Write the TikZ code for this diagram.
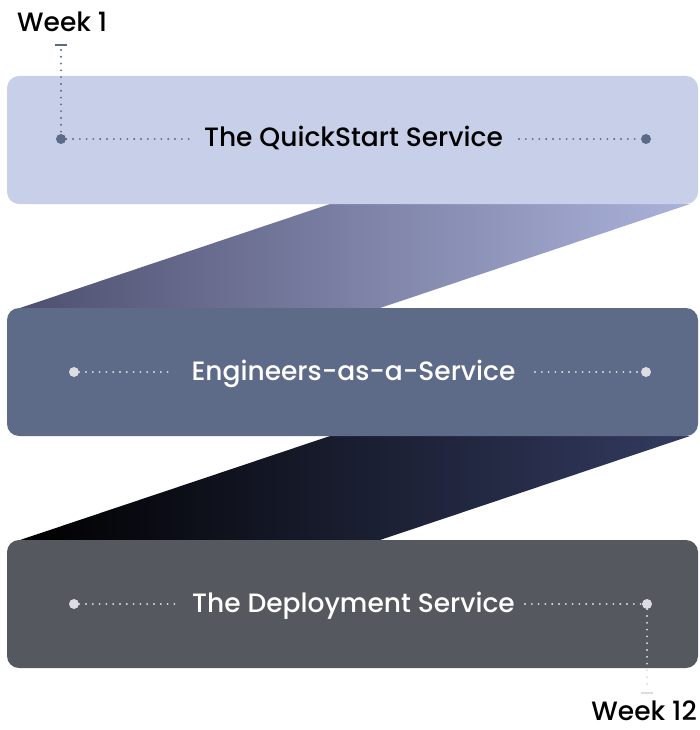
\documentclass[tikz,border=0pt]{standalone}
\usepackage{fontspec}
\setmainfont{Poppins Medium}
\usetikzlibrary{calc}
\begin{document}
\begin{tikzpicture}[x=1pt,y=-1pt,
  box/.style={draw=none,rounded corners=12pt,minimum width=691pt,minimum height=128pt,inner sep=0pt},
  lbl/.style={font=\fontsize{26.5}{30}\selectfont,inner sep=0pt,anchor=base,text depth=0pt},
  dotA/.style={circle,fill=#1,minimum size=10pt,inner sep=0pt},
  dline/.style={draw=#1,line width=2.1pt,line cap=round,dash pattern=on 0pt off 6.8pt}]
\definecolor{boxA}{HTML}{C8D0E9}
\definecolor{boxB}{HTML}{5D6B88}
\definecolor{boxC}{HTML}{55595F}
\definecolor{dotdark}{HTML}{5A6A88}
\definecolor{dotlight}{HTML}{DCDDE2}
\definecolor{gA}{HTML}{4E5070}
\definecolor{gB}{HTML}{ABB2DA}
\definecolor{gC}{HTML}{333B60}
\useasboundingbox (0,0) rectangle (699,730);
% slanted bands
\shade[left color=gA,right color=gB] (330,204) -- (690,204) -- (380,308) -- (20,308) -- cycle;
\shade[left color=black,right color=gC] (330,436) -- (690,436) -- (380,540) -- (20,540) -- cycle;
% boxes
\node[box,fill=boxA] (b1) at (352.5,140) {};
\node[box,fill=boxB] (b2) at (352.5,372) {};
\node[box,fill=boxC] (b3) at (352.5,604) {};
% labels
\node[lbl,text=black] (t1) at (353.5,147) {The QuickStart Service};
\node[lbl,text=white] (t2) at (353.5,380) {Engineers-as-a-Service};
\node[lbl,text=white] (t3) at (353.5,612) {The Deployment Service};
\node[lbl,anchor=base west,text=black] (w1) at (17,32) {Week 1};
\node[lbl,anchor=base east,text=black] (w12) at (697,720) {Week 12};
% dots
\node[dotA=dotdark] (d1l) at (61,139) {};
\node[dotA=dotdark] (d1r) at (646,139) {};
\node[dotA=dotlight] (d2l) at (74,372) {};
\node[dotA=dotlight] (d2r) at (646,372) {};
\node[dotA=dotlight] (d3l) at (74,604) {};
\node[dotA=dotlight] (d3r) at (647,604) {};
% line ends
\coordinate (e1l) at (190,139);
\coordinate (e1r) at (519,139);
\coordinate (e2l) at (172,372);
\coordinate (e2r) at (535,372);
\coordinate (e3l) at (180,604);
\coordinate (e3r) at (525,604);
\coordinate (k1) at (61,45);
\coordinate (k12) at (647,693);
\coordinate (k1b) at (61,50);
\coordinate (k12b) at (647,688);
% dotted connectors
\draw[dline=dotdark] (d1l) -- (e1l);
\draw[dline=dotdark] (e1r) -- (d1r);
\draw[dline=dotlight] (d2l) -- (e2l);
\draw[dline=dotlight] (e2r) -- (d2r);
\draw[dline=dotlight] (d3l) -- (e3l);
\draw[dline=dotlight] (e3r) -- (d3r);
\draw[dline=dotdark] (k1b) -- (d1l);
\draw[dline=dotlight] (d3r) -- (k12b);
% ticks
\draw[dotdark,line width=2pt] ($(k1)+(-6,0)$) -- ($(k1)+(6,0)$);
\draw[dotlight,line width=2pt] ($(k12)+(-6,0)$) -- ($(k12)+(6,0)$);
\end{tikzpicture}
\end{document}
